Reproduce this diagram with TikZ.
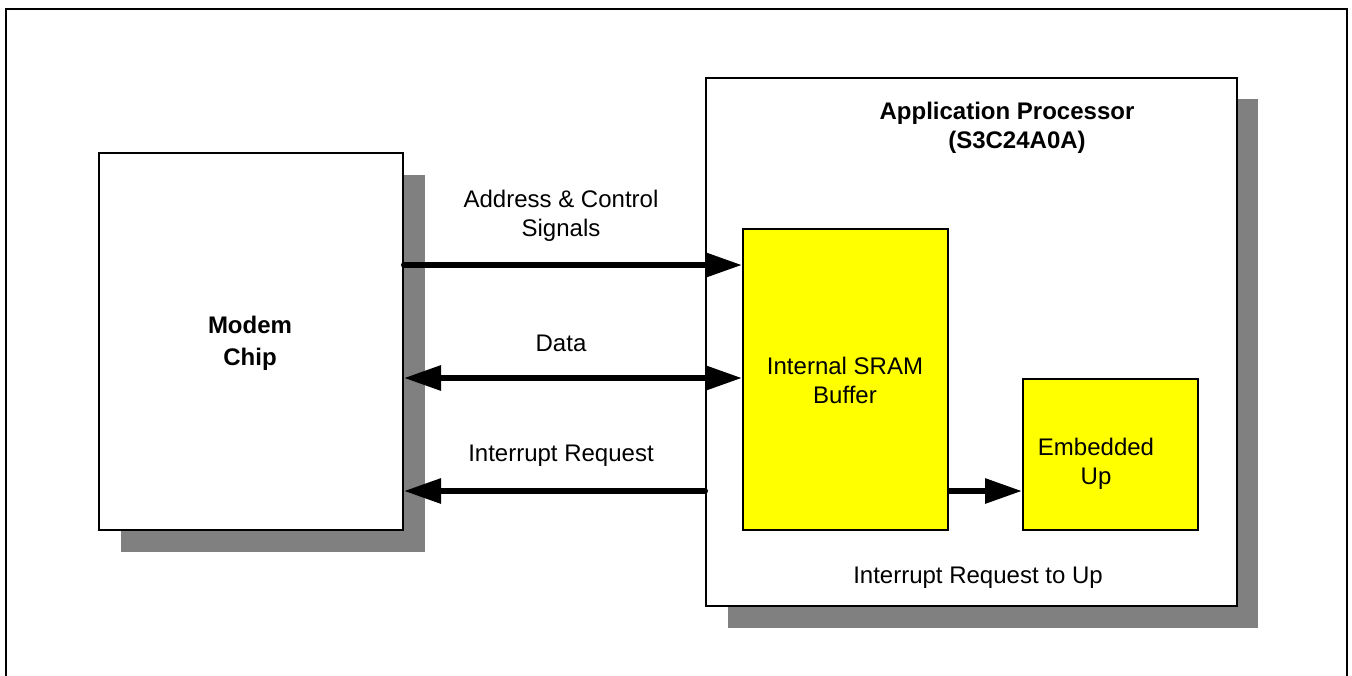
\documentclass[tikz,border=0pt]{standalone}
\usepackage{fontspec}
\setmainfont{Liberation Sans}
\usetikzlibrary{arrows.meta}
\definecolor{shadowgray}{HTML}{808080}
\definecolor{boxyellow}{HTML}{FFFF00}
\begin{document}
\begin{tikzpicture}[x=1pt,y=-1pt,
  box/.style={draw=black,line width=2pt,fill=white,inner sep=0pt,anchor=north west},
  ybox/.style={box,fill=boxyellow},
  shade/.style={fill=shadowgray,draw=none},
  big/.style={line width=6pt,-{Triangle[length=37pt,width=24pt]}},
  bigboth/.style={line width=6pt,{Triangle[length=37pt,width=24pt]}-{Triangle[length=37pt,width=24pt]}},
  lbl/.style={font=\fontsize{24}{29}\selectfont,align=center,inner sep=0pt},
  blbl/.style={font=\fontsize{24}{29}\selectfont\bfseries,align=center,inner sep=0pt}]
\useasboundingbox (0,0) rectangle (1352,675);
\clip (0,0) rectangle (1352,675);
\draw[line width=2.5pt] (6,9) rectangle (1347,700);
% shadows
\fill[shade] (121,175) rectangle (425,552);
\fill[shade] (728,99) rectangle (1258,628);
% boxes
\node[box,minimum width=304pt,minimum height=377pt] (modem) at (98,152) {};
\node[box,minimum width=531pt,minimum height=528pt] (ap) at (705,77) {};
\node[ybox,minimum width=205pt,minimum height=301pt] (sram) at (742,228) {};
\node[ybox,minimum width=175pt,minimum height=151pt] (emb) at (1022,378) {};
% texts
\node[blbl] (tmodem) at (250,343) {Modem\\[3pt]Chip};
\node[blbl] (tap1) at (1007,113) {Application Processor};
\node[blbl] (tap2) at (1017,142) {(S3C24A0A)};
\node[lbl] (tsram) at (845,380) {Internal SRAM\\Buffer};
\node[lbl] (temb) at (1096,464) {Embedded\\Up};
\node[lbl] (tirq2) at (978,578) {Interrupt Request to Up};
\node[lbl] (taddr) at (561,216) {Address \& Control\\Signals};
\node[lbl] (tdata) at (561,343) {Data};
\node[lbl] (tirq) at (561,456) {Interrupt Request};
% connectors
\coordinate (ya) at (0,265);
\coordinate (yd) at (0,378);
\coordinate (yi) at (0,491);
\draw[big,line cap=round] (modem.east |- ya) -- (sram.west |- ya);
\draw[bigboth] (modem.east |- yd) -- (sram.west |- yd);
\draw[big,line cap=round] (ap.west |- yi) -- (modem.east |- yi);
\draw[big] (sram.east |- yi) -- (emb.west |- yi);
\end{tikzpicture}
\end{document}
